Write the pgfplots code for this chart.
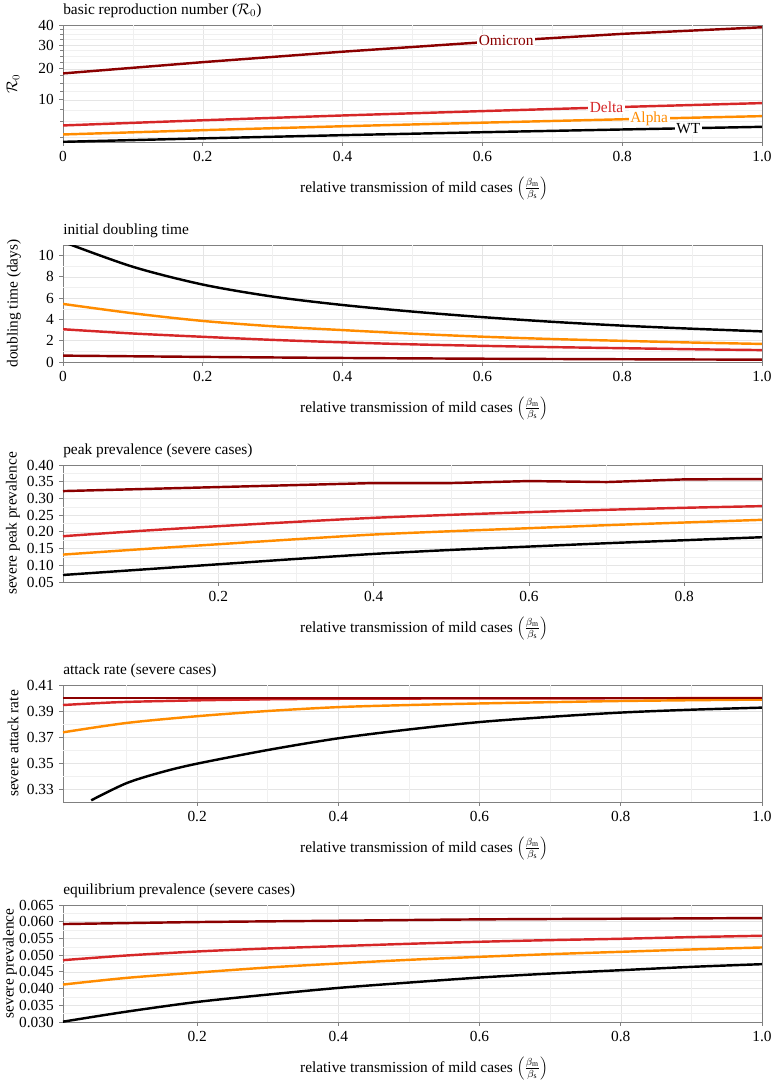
\documentclass[border=0pt]{standalone}
\usepackage{fontspec}
\setmainfont{Liberation Serif}
\usepackage{pgfplots}
\pgfplotsset{compat=1.18}
\definecolor{omi}{RGB}{139,0,0}
\definecolor{del}{RGB}{214,39,40}
\definecolor{alp}{RGB}{255,140,0}
\definecolor{frame}{RGB}{128,128,128}
\pgfplotsset{
  panel/.style={
    scale only axis, width=545.2pt, height=91.26pt,
    anchor=north west,
    axis line style={draw=frame, line width=0.7pt},
    tick style={draw=frame, line width=0.7pt},
    tick align=outside, xtick pos=bottom, ytick pos=left,
    major tick length=3pt, minor tick length=2pt,
    grid=major,
    major grid style={draw=black!10, line width=0.4pt},
    minor grid style={draw=black!6, line width=0.4pt},
    title style={at={(axis description cs:0,1)}, anchor=base west, inner sep=0pt, yshift=2.2pt},
    xlabel={relative transmission of mild cases $\left(\frac{\beta_{\mathrm{m}}}{\beta_{\mathrm{s}}}\right)$},
    xlabel style={at={(axis description cs:0.5,0)}, anchor=center, yshift=-36pt, xshift=9pt},
    /pgf/number format/assume math mode=true,
    scaled y ticks=false, scaled x ticks=false,
    every axis plot/.append style={line width=1.9pt, no markers, smooth},
    extra x tick style={major grid style={draw=black!6, line width=0.4pt}, major tick length=0pt},
    extra y tick style={major grid style={draw=black!6, line width=0.4pt}, major tick length=0pt},
    extra x tick labels={}, extra y tick labels={},
  }
}
\begin{document}
\fontsize{12}{14}\selectfont
\begin{tikzpicture}
\useasboundingbox (0,0) rectangle (602.16pt,-848.64pt);

% Panel 1: R0
\begin{axis}[panel, at={(49.14pt,-19.5pt)},
  title={basic reproduction number ($\mathcal{R}_0$)},
  ylabel={$\mathcal{R}_0$},
  ylabel style={at={(axis description cs:-0.0715,0.5)}, anchor=center},
  xmin=0, xmax=1, xtick={0,0.2,0.4,0.6,0.8,1.0}, xticklabels={0,0.2,0.4,0.6,0.8,1.0},
  extra x ticks={0.1,0.3,0.5,0.7,0.9},
  y coord trafo/.code={\pgfmathparse{sqrt(#1)}},
  y coord inv trafo/.code={\pgfmathparse{(#1)^2}},
  ymin=1.9, ymax=40,
  ytick={10,20,30,40}, yticklabels={10,20,30,40},
  minor ytick={2.5,5,7.5,12.5,15,17.5,22.5,25,27.5,32.5,35,37.5},
  grid=both,
  every axis plot/.append style={sharp plot},
]
\addplot[black] coordinates {(0,1.92) (0.2,2.35) (0.4,2.78) (0.6,3.21) (0.8,3.64) (1.0,4.08)}
  node[pos=0.898, fill=white, inner sep=1.2pt, text=black] {WT};
\addplot[alp] coordinates {(0,2.88) (0.2,3.53) (0.4,4.18) (0.6,4.82) (0.8,5.47) (1.0,6.11)}
  node[pos=0.847, fill=white, inner sep=1.2pt, text=alp] {Alpha};
\addplot[del] coordinates {(0,4.32) (0.2,5.28) (0.4,6.25) (0.6,7.21) (0.8,8.18) (1.0,9.14)}
  node[pos=0.791, fill=white, inner sep=1.2pt, text=del] {Delta};
\addplot[omi] coordinates {(0,18.3) (0.2,22.6) (0.4,27.0) (0.6,31.3) (0.8,35.4) (1.0,38.8)}
  node[pos=0.69, fill=white, inner sep=1.2pt, text=omi] {Omicron};
\end{axis}

% Panel 2: doubling time
\begin{axis}[panel, at={(49.14pt,-191.1pt)},
  title={initial doubling time},
  ylabel={doubling time (days)},
  ylabel style={at={(axis description cs:-0.070,0.5)}, anchor=center},
  xmin=0, xmax=1, xtick={0,0.2,0.4,0.6,0.8,1.0}, xticklabels={0,0.2,0.4,0.6,0.8,1.0},
  extra x ticks={0.1,0.3,0.5,0.7,0.9},
  ymin=0, ymax=11, ytick={0,2,4,6,8,10}, yticklabels={0,2,4,6,8,10},
  extra y ticks={1,3,5,7,9},
]
\addplot[black] coordinates {(0,11.3) (0.1,8.95) (0.2,7.28) (0.3,6.15) (0.4,5.36) (0.5,4.74) (0.6,4.22) (0.7,3.78) (0.8,3.42) (0.9,3.13) (1.0,2.88)};
\addplot[alp] coordinates {(0,5.46) (0.1,4.58) (0.2,3.86) (0.3,3.36) (0.4,3.0) (0.5,2.66) (0.6,2.38) (0.7,2.16) (0.8,1.99) (0.9,1.83) (1.0,1.70)};
\addplot[del] coordinates {(0,3.08) (0.1,2.68) (0.2,2.37) (0.3,2.08) (0.4,1.85) (0.5,1.66) (0.6,1.52) (0.7,1.40) (0.8,1.30) (0.9,1.20) (1.0,1.12)};
\addplot[omi] coordinates {(0,0.60) (0.2,0.48) (0.4,0.38) (0.6,0.31) (0.8,0.26) (1.0,0.22)};
\end{axis}

% Panel 3: peak prevalence
\begin{axis}[panel, at={(49.14pt,-362.7pt)},
  title={peak prevalence (severe cases)},
  ylabel={severe peak prevalence},
  ylabel style={at={(axis description cs:-0.0715,0.5)}, anchor=center},
  xmin=0, xmax=0.9, xtick={0.2,0.4,0.6,0.8}, xticklabels={0.2,0.4,0.6,0.8},
  extra x ticks={0.1,0.3,0.5,0.7},
  ymin=0.05, ymax=0.40,
  ytick={0.05,0.10,0.15,0.20,0.25,0.30,0.35,0.40},
  yticklabels={0.05,0.10,0.15,0.20,0.25,0.30,0.35,0.40},
  extra y ticks={0.075,0.125,0.175,0.225,0.275,0.325,0.375},
]
\addplot[black] coordinates {(0,0.071) (0.1,0.087) (0.2,0.103) (0.3,0.119) (0.4,0.134) (0.5,0.146) (0.6,0.156) (0.7,0.166) (0.8,0.175) (0.9,0.184)};
\addplot[alp] coordinates {(0,0.132) (0.1,0.148) (0.2,0.163) (0.3,0.178) (0.4,0.192) (0.5,0.202) (0.6,0.211) (0.7,0.220) (0.8,0.228) (0.9,0.236)};
\addplot[del] coordinates {(0,0.187) (0.1,0.203) (0.2,0.217) (0.3,0.230) (0.4,0.242) (0.5,0.251) (0.6,0.259) (0.7,0.266) (0.8,0.272) (0.9,0.277)};
\addplot[omi, sharp plot] coordinates {(0,0.322) (0.1,0.328) (0.2,0.334) (0.3,0.340) (0.4,0.346) (0.5,0.346) (0.6,0.352) (0.7,0.349) (0.8,0.357) (0.9,0.358)};
\end{axis}

% Panel 4: attack rate
\begin{axis}[panel, at={(49.14pt,-534.3pt)},
  title={attack rate (severe cases)},
  ylabel={severe attack rate},
  ylabel style={at={(axis description cs:-0.0715,0.5)}, anchor=center},
  xmin=0.01, xmax=1, xtick={0.2,0.4,0.6,0.8,1.0}, xticklabels={0.2,0.4,0.6,0.8,1.0},
  extra x ticks={0.1,0.3,0.5,0.7,0.9},
  ymin=0.32, ymax=0.41,
  ytick={0.33,0.35,0.37,0.39,0.41}, yticklabels={0.33,0.35,0.37,0.39,0.41},
  extra y ticks={0.34,0.36,0.38,0.40},
]
\addplot[black] coordinates {(0.05,0.3213) (0.1,0.3345) (0.15,0.3430) (0.2,0.3495) (0.3,0.3600) (0.4,0.3690) (0.5,0.3758) (0.6,0.3815) (0.7,0.3855) (0.8,0.3888) (0.9,0.3910) (1.0,0.3926)};
\addplot[del] coordinates {(0.01,0.3946) (0.05,0.3958) (0.1,0.3970) (0.2,0.3982) (0.3,0.3990) (0.4,0.3994) (0.6,0.3997) (0.8,0.3998) (1.0,0.3999)};
\addplot[alp] coordinates {(0.01,0.3736) (0.1,0.3808) (0.2,0.3860) (0.3,0.3900) (0.4,0.3930) (0.5,0.3946) (0.6,0.3958) (0.7,0.3968) (0.8,0.3977) (0.9,0.3983) (1.0,0.3988)};
\addplot[omi] coordinates {(0.01,0.4000) (0.5,0.4000) (1.0,0.4000)};
\end{axis}

% Panel 5: equilibrium prevalence
\begin{axis}[panel, at={(49.14pt,-705.9pt)},
  title={equilibrium prevalence (severe cases)},
  ylabel={severe prevalence},
  ylabel style={at={(axis description cs:-0.0758,0.5)}, anchor=center},
  xmin=0.01, xmax=1, xtick={0.2,0.4,0.6,0.8,1.0}, xticklabels={0.2,0.4,0.6,0.8,1.0},
  extra x ticks={0.1,0.3,0.5,0.7,0.9},
  ymin=0.030, ymax=0.065,
  ytick={0.030,0.035,0.040,0.045,0.050,0.055,0.060,0.065},
  yticklabels={0.030,0.035,0.040,0.045,0.050,0.055,0.060,0.065},
  extra y ticks={0.0325,0.0375,0.0425,0.0475,0.0525,0.0575,0.0625},
]
\addplot[black] coordinates {(0.01,0.0301) (0.1,0.0331) (0.2,0.0360) (0.3,0.0382) (0.4,0.0402) (0.5,0.0418) (0.6,0.0433) (0.7,0.0445) (0.8,0.0455) (0.9,0.0465) (1.0,0.0473)};
\addplot[alp] coordinates {(0.01,0.0412) (0.1,0.0432) (0.2,0.0448) (0.3,0.0463) (0.4,0.0475) (0.5,0.0486) (0.6,0.0495) (0.7,0.0503) (0.8,0.0510) (0.9,0.0517) (1.0,0.0523)};
\addplot[del] coordinates {(0.01,0.0485) (0.1,0.0499) (0.2,0.0511) (0.3,0.0520) (0.4,0.0527) (0.5,0.0534) (0.6,0.0540) (0.7,0.0545) (0.8,0.0549) (0.9,0.0554) (1.0,0.0558)};
\addplot[omi] coordinates {(0.01,0.0593) (0.2,0.0599) (0.4,0.0603) (0.6,0.0607) (0.8,0.0609) (1.0,0.0611)};
\end{axis}
\end{tikzpicture}
\end{document}
